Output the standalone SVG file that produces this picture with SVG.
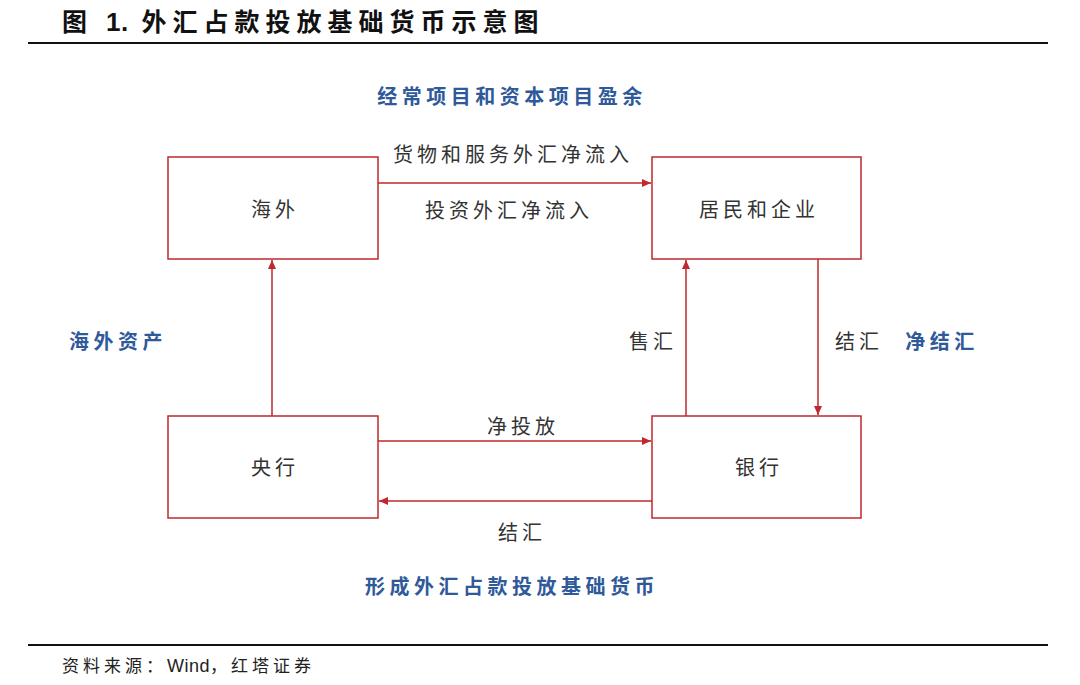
<svg xmlns="http://www.w3.org/2000/svg" width="1080" height="685" viewBox="0 0 1080 685">
<style>
.box{fill:#fff;stroke:#C0282D;stroke-width:1.5}
.con{fill:none;stroke:#C0282D;stroke-width:1.5}
.t{font-family:"Liberation Sans","Noto Sans CJK SC",sans-serif;font-size:20px;fill:#333;text-anchor:middle;letter-spacing:4px}
.b{font-family:"Liberation Sans","Noto Sans CJK SC",sans-serif;font-size:20px;font-weight:bold;fill:#2F5A9A;text-anchor:middle;letter-spacing:4.5px}
.title{font-family:"Liberation Sans","Noto Sans CJK SC",sans-serif;font-size:25px;font-weight:bold;fill:#111;letter-spacing:6px}
.src{font-family:"Liberation Sans","Noto Sans CJK SC",sans-serif;font-size:17px;fill:#222;letter-spacing:4px}
.tight{letter-spacing:0.5px}
</style>
<defs>
<marker id="ah" markerWidth="10" markerHeight="10" refX="9" refY="5" orient="auto" markerUnits="userSpaceOnUse">
<path d="M0,1 L9,5 L0,9 Z" fill="#C0282D"/>
</marker>
</defs>
<rect width="1080" height="685" fill="#fff"/>
<text class="title" x="62" y="31">图 <tspan class="tight" font-size="26">1.</tspan> 外汇占款投放基础货币示意图</text>
<line x1="28" y1="43" x2="1048" y2="43" stroke="#111" stroke-width="2"/>
<g id="labels">
<text class="b" x="512" y="104">经常项目和资本项目盈余</text>
<text class="t" x="513" y="162">货物和服务外汇净流入</text>
<text class="t" x="509" y="218">投资外汇净流入</text>
<text class="b" x="118" y="349">海外资产</text>
<text class="t" x="653" y="349">售汇</text>
<text class="t" x="859" y="349">结汇</text>
<text class="b" x="942" y="349">净结汇</text>
<text class="t" x="523" y="434">净投放</text>
<text class="t" x="522" y="540">结汇</text>
<text class="b" x="512" y="594">形成外汇占款投放基础货币</text>
</g>
<g id="connectors">
<line class="con" x1="378" y1="183" x2="651" y2="183" marker-end="url(#ah)"/>
<line class="con" x1="272" y1="416" x2="272" y2="260" marker-end="url(#ah)"/>
<line class="con" x1="686" y1="416" x2="686" y2="260" marker-end="url(#ah)"/>
<line class="con" x1="818" y1="259" x2="818" y2="415" marker-end="url(#ah)"/>
<line class="con" x1="378" y1="441" x2="651" y2="441" marker-end="url(#ah)"/>
<line class="con" x1="652" y1="501" x2="379" y2="501" marker-end="url(#ah)"/>
</g>
<g id="node-overseas">
<rect class="box" x="168" y="157" width="210" height="102"/>
<text class="t" x="275" y="217">海外</text>
</g>
<g id="node-residents">
<rect class="box" x="652" y="157" width="209" height="102"/>
<text class="t" x="759" y="217">居民和企业</text>
</g>
<g id="node-central-bank">
<rect class="box" x="168" y="416" width="210" height="102"/>
<text class="t" x="275" y="475">央行</text>
</g>
<g id="node-bank">
<rect class="box" x="652" y="416" width="209" height="102"/>
<text class="t" x="759" y="475">银行</text>
</g>
<line x1="28" y1="645" x2="1048" y2="645" stroke="#111" stroke-width="2"/>
<text class="src" x="62" y="672">资料来源：<tspan class="tight" font-size="18">Wind</tspan>，红塔证券</text>
</svg>
